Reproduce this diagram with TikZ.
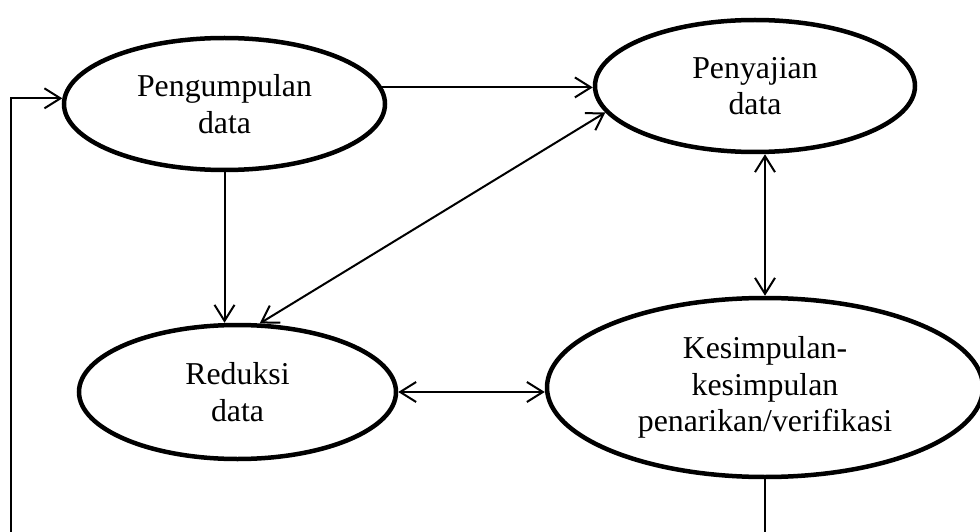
\documentclass[tikz,border=0pt]{standalone}
\usepackage{fontspec}
\setmainfont{Liberation Serif}
\usetikzlibrary{arrows.meta, shapes.geometric}

\begin{document}
\begin{tikzpicture}[
        x=1pt, y=-1pt,
        stage/.style={
            draw,
            ellipse,
            line width=4.5pt,
            inner sep=0pt,
            align=center,
            font=\fontsize{31.8}{36.5}\selectfont,
        },
        link/.style={
            line width=2pt,
        },
    ]
    \useasboundingbox (0, 0) rectangle (980, 532);

    \node[stage, minimum width=321pt, minimum height=132pt] (kumpul) at (224.5, 104) {Pengumpulan\\data};
    \node[stage, minimum width=320pt, minimum height=132pt] (saji) at (755, 86) {Penyajian\\data};
    \node[stage, minimum width=317pt, minimum height=134pt] (reduksi) at (237.5, 392) {Reduksi\\data};
    \node[stage, minimum width=436pt, minimum height=179pt] (simpul) at (765, 387.5) {Kesimpulan-\\kesimpulan\\penarikan/verifikasi};

    \coordinate (balik) at (11, 570);

    \begin{scope}[link, >={Straight Barb[length=16pt, width=20pt]}]
        \draw[->] (kumpul.6) -- (kumpul.6 -| saji.west);
        \draw[->] (kumpul.south) -- (kumpul.south |- reduksi.north);
        \draw[<->] (reduksi.72) -- (saji.190);
        \draw[<->] (reduksi.east) -- (reduksi.east -| simpul.west);
        \draw[<->] (simpul.north) -- (simpul.north |- saji.south);
        \draw[->] (simpul.south) |- (balik) |- (kumpul.178);
    \end{scope}
\end{tikzpicture}
\end{document}
